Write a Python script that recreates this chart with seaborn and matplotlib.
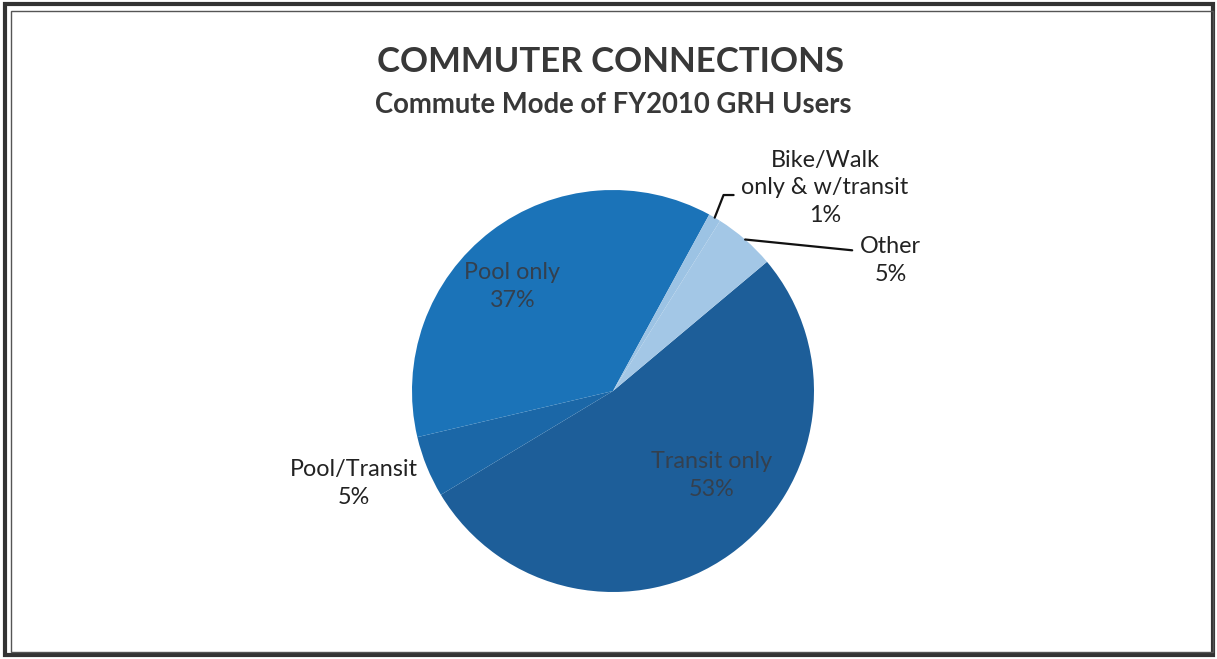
import matplotlib.pyplot as plt
import numpy as np
import seaborn as sns
from matplotlib.patches import Rectangle

sns.set_style("white")
plt.rcParams["font.family"] = ["Lato", "DejaVu Sans"]

# data, clockwise from the top-right
modes = ["Transit only", "Pool/Transit", "Pool only", "Bike/Walk\nonly & w/transit", "Other"]
shares = [53, 5, 37, 1, 5]
pct_labels = ["53%", "5%", "37%", "1%", "5%"]
colors = ["#1d5e99", "#1b67a7", "#1b73b8", "#9cc3e4", "#a3c7e6"]

W, H = 1217, 659
fig = plt.figure(figsize=(W / 100, H / 100), dpi=100)

# pie box: centre (613, 391) px, radius 201 px
cx, cy, r = 613, 391, 201
ax = fig.add_axes([(cx - r) / W, (H - cy - r) / H, 2 * r / W, 2 * r / H])
wedges, _ = ax.pie(
    shares,
    colors=colors,
    startangle=40,
    counterclock=False,
    radius=1,
    wedgeprops={"linewidth": 0},
)
ax.set_xlim(-1, 1)
ax.set_ylim(-1, 1)
ax.set_aspect("equal")
ax.axis("off")

# label positions in pie units (radius = 1), and whether they sit inside
label_pos = [(0.49, -0.42), (-1.29, -0.46), (-0.50, 0.52), (1.055, 1.01), (1.38, 0.65)]
inside = [True, False, True, False, False]

for w, name, pct, pos, ins in zip(wedges, modes, pct_labels, label_pos, inside):
    ax.text(
        pos[0], pos[1], f"{name}\n{pct}",
        ha="center", va="center", fontsize=16.8, linespacing=1.4,
        color="#34404e" if ins else "#222222", clip_on=False,
    )

# leader lines for the two small slices
def edge_point(w):
    mid = np.deg2rad((w.theta1 + w.theta2) / 2)
    return np.cos(mid), np.sin(mid)

bx, by = edge_point(wedges[3])
ax.plot([bx, 0.55, 0.60], [by, 0.975, 0.975], color="#111111", lw=1.6, clip_on=False)
ox, oy = edge_point(wedges[4])
ax.plot([ox, 1.19], [oy, 0.70], color="#111111", lw=1.6, clip_on=False)

fig.text(0.5015, 1 - 62 / H, "COMMUTER CONNECTIONS", ha="center", va="center",
         fontsize=25, fontweight="bold", color="#383838")
fig.text(0.504, 1 - 105 / H, "Commute Mode of FY2010 GRH Users", ha="center", va="center",
         fontsize=19.8, fontweight="bold", color="#383838")

# double frame round the chart
fig.patches.append(Rectangle((5 / W, 4 / H), 1 - 9 / W, 1 - 8 / H, transform=fig.transFigure,
                             fill=False, edgecolor="#333333", lw=3))
fig.patches.append(Rectangle((11 / W, 7 / H), 1 - 15 / W, 1 - 18 / H, transform=fig.transFigure,
                             fill=False, edgecolor="#555555", lw=1))

fig.savefig("out.png", dpi=100, facecolor="white")
